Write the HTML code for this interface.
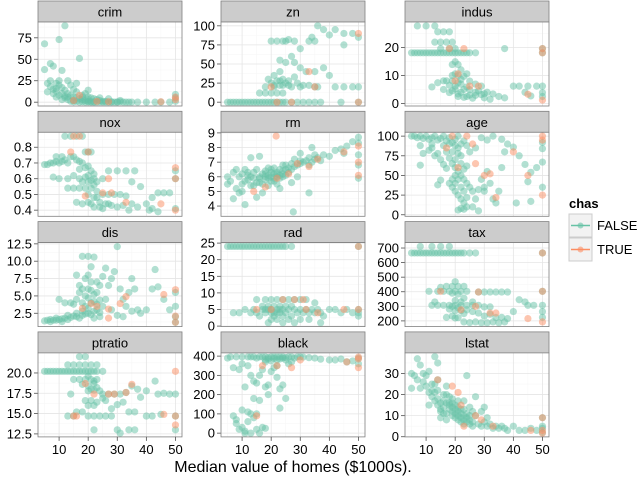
<!DOCTYPE html>
<html><head><meta charset="utf-8"><style>
html,body{margin:0;padding:0;background:#fff;}
svg{display:block;font-family:"Liberation Sans",Arial,sans-serif;}
</style></head><body>
<svg id="chart" width="640" height="477" viewBox="0 0 640 477" xmlns="http://www.w3.org/2000/svg">
<text x="293" y="472" font-size="16" text-anchor="middle" fill="#000">Median value of homes ($1000s).</text>
<g>
<text x="569" y="208" font-size="13" font-weight="bold">chas</text>
<g>
<rect x="569" y="214" width="23" height="23" fill="#f2f2f2" stroke="#ccc"/>
<line x1="571" y1="225.5" x2="590" y2="225.5" stroke="#66C2A5" stroke-width="1.5"/>
<circle cx="580.5" cy="225.5" r="3" fill="#66C2A5" opacity="0.6"/>
<text x="597" y="230" font-size="13">FALSE</text></g>
<g>
<rect x="569" y="238" width="23" height="23" fill="#f2f2f2" stroke="#ccc"/>
<line x1="571" y1="249.5" x2="590" y2="249.5" stroke="#FC8D62" stroke-width="1.5"/>
<circle cx="580.5" cy="249.5" r="3" fill="#FC8D62" opacity="0.6"/>
<text x="597" y="254" font-size="13">TRUE</text></g>
</g>
</svg>
<script>
const xTicks=[10,20,30,40,50];
const xMinor=[5,15,25,35,45];
const xDomain=[2.75,52.25];
const names=["crim","zn","indus","nox","rm","age","dis","rad","tax","ptratio","black","lstat"];
const domains=[[-4.44,93.42],[-5,105],[-0.9,29.1],[0.361,0.895],[3.30,9.04],[-1.96,104.86],[0.58,12.68],[-0.15,25.15],[160.8,737.2],[12.13,22.47],[-19.5,416.7],[-0.08,39.78]];
const yTicks=[[0,25,50,75],[0,25,50,75,100],[0,10,20],[0.4,0.5,0.6,0.7,0.8],[4,5,6,7,8,9],[0,25,50,75,100],[2.5,5,7.5,10,12.5],[0,5,10,15,20,25],[200,300,400,500,600,700],[12.5,15,17.5,20],[0,100,200,300,400],[0,10,20,30]];
const yTickLabels=[["0","25","50","75"],["0","25","50","75","100"],["0","10","20"],["0.4","0.5","0.6","0.7","0.8"],["4","5","6","7","8","9"],["0","25","50","75","100"],["2.5","5.0","7.5","10.0","12.5"],["0","5","10","15","20","25"],["200","300","400","500","600","700"],["12.5","15.0","17.5","20.0"],["0","100","200","300","400"],["0","10","20","30"]];

const crimF=[[5,38],[5,68],[7,45],[8,42],[10,73],[11,37],[12,89],[13,25],[14,20],[15,15],[16,12],[17,51],[18,8],[19,10],[20,6],[21,5],[22,4],[23,3],[24,2],[25,1],[26,1],[28,0.5],[30,0.3],[32,0.2],[35,0.1],[40,0.1],[45,0.1],[50,5],[50,9],[6,22],[7,18],[8,15],[9,13],[10,20],[11,17],[12,14],[13,10],[14,8],[15,6],[16,5],[17,4],[18,3],[19,2],[20,1],[21,0.5],[22,0.3],[9,6],[10,8],[11,10],[12,5],[13,3],[14,1],[17,0.2],[19,0.1],[21,0.1],[23,0.1],[25,0.1],[27,0.1],[29,0.1],[33,0.1],[37,0.1],[43,0.1],[48,0.1],[50,1],[7,25],[9,22],[10,25],[12,7],[15,2],[24,5],[27,4],[31,2],[8,10],[6,12],[16,22],[20,14],[16,1],[18,0.5],[20,0.3],[22,0.2],[24,0.3],[26,0.2],[28,0.1],[30,0.1],[31,0.5],[34,0.1],[15,0.5],[13,6],[11,3],[9,16],[18,6],[20,3]];
const crimT=[[15,2],[23,1],[50,6],[50,3],[45,0.5],[27,0.5],[17,8]];
const znF=[[5,0],[7,0],[9,0],[11,0],[13,0],[15,0],[17,0],[19,0],[21,0],[23,0],[25,0],[27,0],[29,0],[31,0],[33,0],[35,0],[37,0],[44,0],[50,0],[20,12],[22,12],[24,12],[18,20],[21,20],[23,22],[25,25],[27,20],[30,20],[20,25],[22,28],[24,30],[26,22],[19,30],[28,33],[33,22],[35,20],[36,20],[42,20],[45,20],[48,20],[50,20],[20,80],[22,80],[24,80],[26,82],[28,80],[33,80],[35,80],[23,55],[25,52],[27,60],[30,45],[32,40],[35,40],[38,45],[40,35],[45,75],[48,90],[50,85],[36,100],[38,95],[42,95],[45,90],[40,88],[34,85],[30,70],[21,35],[18,12],[16,12],[23,40],[6,0],[8,0],[10,0],[12,0],[14,0],[16,0],[18,0],[20,0],[22,0],[24,0],[25,80],[24,22],[26,28],[29,25],[31,22],[28,52],[23,28],[21,22]];
const znT=[[20,20],[33,40],[35,20],[50,90],[27,0],[22,0],[50,0]];
const indusF=[[5,18.1],[6,18.1],[7,18.1],[8,18.1],[9,18.1],[10,18.1],[11,18.1],[12,18.1],[13,18.1],[14,18.1],[15,18.1],[16,18.1],[17,18.1],[18,18.1],[19,18.1],[20,18.1],[21,18.1],[22,18.1],[23,18.1],[24,18.1],[25,18.1],[27,18.1],[37,19.6],[50,18.1],[50,19.6],[7,27.7],[10,27.7],[13,27.7],[14,25.6],[16,25.6],[18,25.6],[15,21.9],[17,21.9],[19,21.9],[13,21.9],[18,19.6],[20,19.6],[15,19.6],[19,13.9],[21,13.9],[20,14.9],[22,12],[24,10.6],[17,8.1],[16,8.1],[19,8.1],[21,9.9],[23,9.7],[20,6.2],[22,6.9],[24,5.9],[25,4.9],[27,6.9],[29,6.2],[31,4.0],[33,3.4],[35,2.5],[37,2.0],[40,6.2],[42,6.2],[45,6.2],[48,6.2],[50,3.9],[50,2.5],[50,6.2],[21,3.4],[23,2.2],[25,3.0],[27,2.9],[30,2.0],[28,4.5],[20,5.2],[22,4.0],[18,6.5],[14,7.4],[12,5.9],[26,1.9],[32,1.5],[44,4.0],[46,2.7],[16,5.0],[20,10.6],[22,8.6],[18,3.9],[24,2.5],[29,3.2],[19,10.0],[21,7.4],[23,5.0],[19,4.5],[21,2.5],[25,8.0],[27,4.0],[30,3.5]];
const indusT=[[18,19.6],[23,19.6],[21,10.6],[25,6.2],[28,6.2],[45,3.3],[50,18.1],[50,19.6],[50,1.2],[20,8.1]];
const noxF=[[5,0.69],[6,0.69],[7,0.7],[8,0.7],[9,0.71],[10,0.7],[11,0.71],[12,0.72],[13,0.7],[14,0.74],[15,0.74],[16,0.72],[17,0.71],[18,0.7],[19,0.67],[20,0.68],[21,0.65],[22,0.63],[9,0.74],[11,0.74],[12,0.87],[14,0.87],[16,0.87],[18,0.87],[19,0.77],[20,0.77],[21,0.77],[8,0.61],[10,0.6],[13,0.6],[15,0.62],[17,0.6],[19,0.61],[21,0.59],[23,0.58],[25,0.6],[27,0.65],[30,0.65],[33,0.65],[36,0.65],[13,0.54],[15,0.54],[17,0.54],[19,0.54],[21,0.54],[23,0.52],[25,0.5],[27,0.5],[29,0.5],[31,0.5],[33,0.49],[20,0.5],[22,0.48],[24,0.45],[26,0.44],[28,0.43],[30,0.42],[32,0.43],[35,0.44],[37,0.42],[40,0.44],[42,0.41],[44,0.51],[46,0.51],[48,0.51],[50,0.6],[50,0.65],[50,0.41],[18,0.44],[16,0.45],[20,0.45],[22,0.42],[25,0.41],[34,0.4],[41,0.4],[44,0.39],[35,0.58],[38,0.55],[42,0.48],[20,0.58],[22,0.56],[18,0.58],[20,0.62],[23,0.48],[21,0.44],[24,0.42],[27,0.44],[22,0.6],[17,0.66]];
const noxT=[[15,0.87],[14,0.77],[17,0.87],[27,0.6],[25,0.51],[28,0.51],[19,0.49],[33,0.45],[45,0.44],[50,0.67],[50,0.6],[50,0.4],[20,0.77]];
const rmF=[[5,5.5],[5,6],[6,5.7],[7,4.5],[7,6.3],[8,5.2],[8,6.5],[9,4.9],[9,6],[10,5],[10,6.2],[10,5.5],[11,4.1],[11,6.5],[12,5.8],[12,6.1],[13,6],[13,5.4],[13,7.3],[14,5.9],[14,6.3],[15,5.6],[15,6.5],[15,4.6],[16,6],[16,5.9],[16,7.4],[17,5.5],[17,6.2],[18,6],[18,5.8],[18,6.4],[19,6.1],[19,5.4],[19,6.6],[20,6],[20,5.7],[20,6.3],[21,6.2],[21,5.9],[21,6.6],[22,6.3],[22,6],[22,5.5],[23,6.1],[23,6.5],[24,6.4],[24,6],[24,6.8],[25,6.5],[25,6.1],[26,6.6],[26,6.3],[27,6.5],[27,6.9],[28,6.7],[28,7.2],[29,6.8],[30,6.9],[30,7.1],[31,7],[32,7.1],[33,6.8],[33,7.3],[34,7],[35,7.2],[35,7.5],[36,7.3],[37,7.1],[38,7.5],[40,7.4],[42,7.8],[44,7.9],[45,7.6],[46,8.1],[48,8.4],[50,8.7],[50,8.3],[50,7.5],[50,6.8],[50,5.9],[27.6,3.6],[33,4.9],[27,5.6],[29,6.0],[30,7.6],[34,8.0],[23,5.2],[17,4.9],[14,5.4],[16,5.6],[18,6.2],[19,5.9],[20,6.5],[21,5.7],[22,6.2],[23,5.9],[12,6.3],[11,5.7],[24,6.2],[25,6.8]];
const rmT=[[21.7,8.78],[14,5],[18,5.3],[22,5.9],[26,6.2],[29,6.9],[33,6.7],[36,7.2],[45,7.7],[50,8.1],[50,7],[50,6.1]];
const ageF=[[5,100],[6,100],[7,98],[8,100],[9,97],[10,100],[11,96],[12,98],[13,100],[14,95],[15,97],[16,100],[17,94],[18,98],[19,92],[20,96],[21,100],[22,90],[23,94],[24,88],[8,88],[9,78],[11,82],[12,85],[13,75],[14,78],[15,70],[16,88],[17,80],[18,72],[19,65],[20,60],[21,55],[22,50],[23,45],[24,40],[25,35],[18,40],[19,35],[20,30],[21,25],[22,20],[23,15],[24,10],[22,8],[21,6],[23,7],[19,45],[20,50],[20,70],[22,75],[21,85],[24,62],[26,30],[27,20],[28,32],[29,45],[30,35],[31,55],[32,40],[33,20],[34,15],[35,30],[36,60],[37,80],[38,90],[40,86],[42,75],[44,64],[46,54],[48,60],[50,92],[50,84],[50,67],[50,35],[25,80],[27,85],[29,98],[31,95],[33,100],[36,96],[41,15],[46,17],[45,42],[26,10],[28,5],[30,30],[17,59],[16,64],[15,44],[14,38],[8,63],[12,90],[20,88],[21,78],[22,65],[23,58],[20,40],[21,45],[22,35],[19,80],[18,90],[23,30],[24,22]];
const ageT=[[17,85],[19,100],[24,100],[26,90],[27,65],[30,50],[32,52],[34,22],[40,80],[45,50],[50,95],[50,100],[50,25],[21,60]];
const disF=[[5,1.4],[6,1.5],[7,1.6],[8,1.5],[9,1.5],[10,1.6],[11,1.7],[12,1.8],[13,1.6],[14,1.9],[15,2.1],[16,2.0],[17,1.8],[18,2.2],[19,2.4],[20,2.5],[21,2.3],[22,2.8],[23,3.0],[24,2.6],[7,1.3],[9,1.8],[11,1.3],[13,2.2],[14,4.0],[15,3.8],[16,4.5],[17,5.5],[18,6.0],[19,7.5],[20,8.0],[17,6.5],[16,8.0],[18,10.7],[20,10.7],[22,10.6],[21,9.2],[23,5.5],[24,4.4],[25,3.5],[26,4.5],[27,6.5],[28,7.5],[29,8.5],[30,12.1],[31,6.0],[32,4.5],[33,3.5],[34,5.5],[35,7.5],[36,6.0],[37,3.0],[38,2.5],[40,3.0],[42,6.0],[43,8.8],[44,6.3],[46,4.5],[48,3.0],[50,5.5],[50,2.0],[50,1.2],[50,3.5],[22,4.2],[20,4.7],[21,5.8],[23,7.0],[19,3.5],[18,4.0],[25,7.8],[26,9.0],[28,3.0],[30,2.2],[32,2.0],[35,2.8],[12,4.0],[10,4.5],[22,1.8],[24,2.0],[19,5.0],[20,6.0],[21,4.0],[22,5.2],[23,3.8],[20,3.2],[18,2.8],[16,2.5],[21,7.0],[24,6.5]];
const disT=[[18,3.2],[21,3.9],[23,3.5],[27,3.1],[27,1.8],[31,3.9],[33,4.9],[46,5.2],[50,5.9],[50,1.2],[50,2.1]];
const radF=[[5,24],[6,24],[7,24],[8,24],[9,24],[10,24],[11,24],[12,24],[13,24],[14,24],[15,24],[16,24],[17,24],[18,24],[19,24],[20,24],[21,24],[22,24],[23,24],[24,24],[25,24],[27,24],[50,24],[7,4],[9,4],[11,5],[13,4],[14,5],[15,4],[16,3],[17,5],[18,4],[19,5],[20,4],[21,3],[22,5],[23,4],[24,5],[25,4],[26,5],[27,3],[28,5],[29,4],[30,5],[31,4],[32,5],[33,4],[34,5],[35,4],[36,5],[37,4],[38,3],[40,5],[42,5],[44,4],[46,5],[48,4],[50,5],[50,4],[50,3],[15,8],[18,8],[20,8],[22,8],[24,8],[26,8],[28,8],[30,8],[32,8],[35,7],[17,6],[19,6],[21,6],[23,6],[25,6],[27,6],[20,2],[22,2],[24,1],[26,2],[28,1],[30,2],[33,2],[37,1],[19,1],[18,5],[20,5],[22,4],[24,3],[21,4],[23,5]];
const radT=[[15,5],[20,5],[24,8],[28,8],[31,8],[32,5],[36,4],[45,5],[50,24],[50,5]];
const taxF=[[5,666],[6,666],[7,666],[8,666],[9,666],[10,666],[11,666],[12,666],[13,666],[14,666],[15,666],[16,666],[17,666],[18,666],[19,666],[20,666],[21,666],[22,666],[23,666],[25,666],[27,666],[8,711],[12,711],[15,711],[18,711],[50,666],[14,403],[16,403],[18,403],[20,403],[22,403],[24,403],[15,430],[17,437],[19,437],[21,437],[23,437],[20,469],[28,398],[30,398],[32,398],[34,398],[36,398],[38,398],[42,345],[44,330],[12,307],[14,307],[16,307],[18,307],[20,307],[22,307],[24,307],[26,307],[28,307],[30,296],[32,296],[18,281],[20,270],[22,270],[24,276],[26,264],[28,254],[30,233],[32,245],[34,223],[36,224],[38,216],[17,224],[19,233],[21,222],[23,193],[25,188],[27,193],[29,187],[31,187],[33,193],[35,187],[37,193],[40,264],[45,307],[47,307],[50,264],[50,307],[50,224],[50,403],[13,330],[11,403],[23,356],[26,330],[19,390],[21,384],[20,340],[22,330],[19,300],[21,290],[23,250],[20,220]];
const taxT=[[15,403],[28,398],[22,276],[27,300],[32,254],[34,254],[45,216],[50,666],[50,403],[50,193]];
const ptratioF=[[5,20.2],[6,20.2],[7,20.2],[8,20.2],[9,20.2],[10,20.2],[11,20.2],[12,20.2],[13,20.2],[14,20.2],[15,20.2],[16,20.2],[17,20.2],[18,20.2],[19,20.2],[20,20.2],[21,20.2],[22,20.2],[23,20.2],[25,20.2],[13,21],[15,21],[17,21],[19,21],[21,21],[23,21],[17,22],[19,22],[15,19.2],[17,19.2],[19,19.2],[21,19.2],[23,19.2],[18,18.6],[20,18.4],[22,18.7],[24,17.8],[20,17.8],[22,17.9],[19,16.6],[21,16.6],[23,16.4],[25,16.9],[14,17.4],[16,15.2],[18,15.2],[20,14.7],[13,14.7],[15,14.7],[22,14.7],[24,14.7],[26,14.7],[28,14.7],[25,17.4],[27,17.4],[29,17.4],[31,17.4],[33,17.6],[35,18.4],[37,18.0],[38,17.0],[40,17.8],[43,19.0],[44,17.4],[46,17.5],[48,17.4],[50,17.4],[50,14.7],[50,13.0],[30,13.0],[31,12.6],[34,13.0],[36,13.0],[22,13.0],[40,14.7],[42,14.7],[45,14.9],[30,16.1],[32,16.4],[34,15.2],[36,15.2],[26,16.6],[28,15.6],[20,19.6],[22,19.0],[21,18.0],[23,18.2],[20,16.0],[22,16.0]];
const ptratioT=[[15,14.7],[16,14.7],[19,18.7],[22,17.4],[27,17.4],[29,17.4],[33,17.6],[35,18.6],[46,14.9],[50,20.2],[50,13.6],[50,14.7]];
const blackF=[[5,390],[6,396],[8,396],[10,396],[12,396],[13,396],[14,396],[15,390],[16,396],[17,396],[18,396],[19,393],[20,396],[21,396],[22,396],[23,396],[24,396],[25,392],[26,396],[27,396],[28,390],[29,396],[30,396],[31,395],[33,392],[35,390],[37,384],[40,380],[42,380],[44,385],[46,370],[48,375],[50,390],[50,360],[7,340],[9,330],[10,360],[11,240],[12,350],[13,300],[14,270],[15,260],[16,300],[17,330],[18,380],[19,250],[20,320],[21,340],[22,290],[23,230],[24,250],[25,180],[26,360],[27,370],[14,180],[16,170],[18,240],[23,130],[7,90],[8,50],[9,20],[10,30],[11,10],[12,60],[13,100],[14,80],[15,20],[16,0],[17,30],[18,25],[10,120],[12,110],[11,0],[8,70],[13,0],[15,100],[19,200],[22,350],[20,375],[19,385],[21,388],[23,385],[25,380],[18,370],[22,380],[24,390]];
const blackT=[[15,90],[17,350],[22,350],[27,340],[30,380],[46,370],[50,385],[50,340],[50,395]];
const lstatF=[[5,30],[5,23],[6,29],[7,37],[7,27],[8,34],[8,23],[9,30],[9,26],[10,24],[10,29],[11,21],[11,31],[12,22],[12,19],[12,25],[13,17],[13,21],[13,38],[14,18],[14,15],[14,35],[14,27],[15,16],[15,13],[15,12],[16,14],[16,20],[16,11],[17,16],[17,8],[17,11],[18,15],[18,13],[18,19],[19,12],[19,10],[19,14],[20,11],[20,9],[20,13],[21,10],[21,8],[21,12],[22,9],[22,7],[22,11],[23,10],[23,6],[23,13],[24,9],[24,7],[24,29],[25,8],[25,6],[26,7],[26,5],[27,10],[27,19],[28,6],[29,5],[30,7],[30,14],[31,5],[32,6],[33,4],[34,5],[35,4],[36,5],[37,4],[38,3],[40,5],[42,3],[44,3],[46,4],[48,3],[50,2],[50,5],[50,9],[50,4],[29,12],[31,9],[25,14],[19,18],[17,24],[11,15],[15,9],[21,17],[23,17],[26,12],[14,22],[16,17],[18,16],[20,15],[22,13],[24,11],[17,20],[19,16],[21,14],[23,8],[25,10],[13,25]];
const lstatT=[[14,27],[19,24],[21,21],[22,15],[27,10],[29,8],[33,5],[46,3],[50,3],[50,9],[50,1.7],[23,5]];
const falseSeries=[crimF,znF,indusF,noxF,rmF,ageF,disF,radF,taxF,ptratioF,blackF,lstatF];
const trueSeries=[crimT,znT,indusT,noxT,rmT,ageT,disT,radT,taxT,ptratioT,blackT,lstatT];

const NS="http://www.w3.org/2000/svg";
const svg=document.getElementById('chart');
const colX=[38,221,405], PW=144, PH=84, STRIP=21;
function rowTop(r){return 1+r*110.3;}
function mk(tag,attrs,parent){const e=document.createElementNS(NS,tag);for(const k in attrs)e.setAttribute(k,attrs[k]);(parent||svg).appendChild(e);return e;}
names.forEach((nm,i)=>{
  const c=i%3,r=Math.floor(i/3);
  const x0=colX[c], st=rowTop(r), y0=st+STRIP, dom=domains[i];
  const sx=v=>x0+(v-xDomain[0])/(xDomain[1]-xDomain[0])*PW;
  const sy=v=>y0+PH-(v-dom[0])/(dom[1]-dom[0])*PH;
  const g=mk('g',{});
  
  
  const strip=mk('rect',{x:x0,y:st,width:PW,height:STRIP,fill:'#cccccc',stroke:'#808080','stroke-width':0.8},g);
  
  
  const lab=mk('text',{x:x0+PW/2,y:st+15.5,'font-size':13,'text-anchor':'middle',fill:'#000'},g);
  lab.textContent=nm;
  
  
  mk('rect',{x:x0,y:y0,width:PW,height:PH,fill:'#fff'},g);
  xMinor.forEach(v=>mk('line',{x1:sx(v),x2:sx(v),y1:y0,y2:y0+PH,stroke:'#f7f7f7','stroke-width':0.6},g));
  const yt=yTicks[i];
  for(let k=0;k<yt.length;k++){
    const m=k<yt.length-1?(yt[k]+yt[k+1])/2:yt[k]+(yt[1]-yt[0])/2;
    if(m>dom[0]&&m<dom[1]) mk('line',{x1:x0,x2:x0+PW,y1:sy(m),y2:sy(m),stroke:'#f7f7f7','stroke-width':0.6},g);
  }
  const m0=yt[0]-(yt[1]-yt[0])/2; if(m0>dom[0]) mk('line',{x1:x0,x2:x0+PW,y1:sy(m0),y2:sy(m0),stroke:'#f7f7f7','stroke-width':0.6},g);
  xTicks.forEach(v=>mk('line',{x1:sx(v),x2:sx(v),y1:y0,y2:y0+PH,stroke:'#e5e5e5','stroke-width':0.8},g));
  yt.forEach((v,k)=>{
    mk('line',{x1:x0,x2:x0+PW,y1:sy(v),y2:sy(v),stroke:'#e5e5e5','stroke-width':0.8},g);
    mk('line',{x1:x0-4,x2:x0,y1:sy(v),y2:sy(v),stroke:'#4d4d4d','stroke-width':0.8},g);
    const t=mk('text',{x:x0-6,y:sy(v)+4.5,'font-size':13,'text-anchor':'end',fill:'#000'},g);
    t.textContent=yTickLabels[i][k];
    
    
  });
  falseSeries[i].forEach(p=>{
    const d=mk('circle',{cx:sx(p[0]),cy:sy(p[1]),r:3.6,fill:'#66C2A5','fill-opacity':0.5},g);
    
    
  });
  trueSeries[i].forEach(p=>{
    const d=mk('circle',{cx:sx(p[0]),cy:sy(p[1]),r:3.6,fill:'#FC8D62','fill-opacity':0.5},g);
    
    
  });
  mk('rect',{x:x0,y:y0,width:PW,height:PH,fill:'none',stroke:'#808080','stroke-width':0.8},g);
  if(r===3){
    xTicks.forEach(v=>{
      mk('line',{x1:sx(v),x2:sx(v),y1:y0+PH,y2:y0+PH+4,stroke:'#4d4d4d','stroke-width':0.8},g);
      const t=mk('text',{x:sx(v),y:y0+PH+17,'font-size':13,'text-anchor':'middle',fill:'#000'},g);
      t.textContent=String(v);
      
      
    });
  }
});
</script>
</body></html>
